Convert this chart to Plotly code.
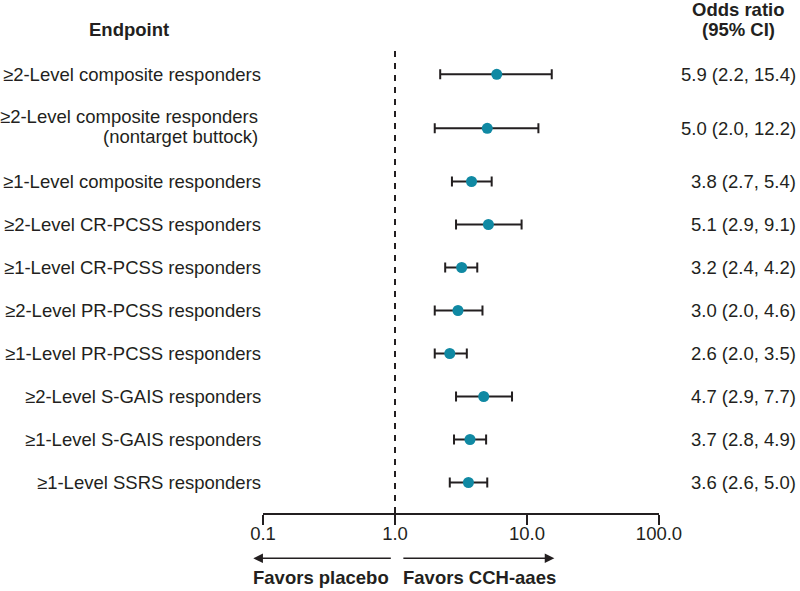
import plotly.graph_objects as go

# ---- data ----
endpoints = [
    "≥2-Level composite responders",
    "≥2-Level composite responders<br>(nontarget buttock)",
    "≥1-Level composite responders",
    "≥2-Level CR-PCSS responders",
    "≥1-Level CR-PCSS responders",
    "≥2-Level PR-PCSS responders",
    "≥1-Level PR-PCSS responders",
    "≥2-Level S-GAIS responders",
    "≥1-Level S-GAIS responders",
    "≥1-Level SSRS responders",
]
odds_ratio = [5.9, 5.0, 3.8, 5.1, 3.2, 3.0, 2.6, 4.7, 3.7, 3.6]
ci_low = [2.2, 2.0, 2.7, 2.9, 2.4, 2.0, 2.0, 2.9, 2.8, 2.6]
ci_high = [15.4, 12.2, 5.4, 9.1, 4.2, 4.6, 3.5, 7.7, 4.9, 5.0]
tick_vals = [0.1, 1, 10, 100]
tick_text = ["0.1", "1.0", "10.0", "100.0"]

# ---- layout constants (pixels) ----
W, H = 800, 591
L, R, T, B = 262.7, 659.3, 50, 513
PW, PH = R - L, B - T
FONT = "Arial, Liberation Sans, sans-serif"
FS = 18.5
TEAL = "#1089a3"
INK = "#231f20"
UNIT = 43.0
ROW0 = 74.3


def px_x(x):
    return (x - L) / PW


def px_y(y):
    return (B - y) / PH


# row positions (in row units): extra spacing around the two-line row
y_pos = []
for i in range(len(endpoints)):
    extra = 0.0
    if i >= 1:
        extra += 0.256
    if i >= 2:
        extra += 0.237
    y_pos.append(i + extra)

y_top = (T - ROW0) / UNIT
y_bot = (B - ROW0) / UNIT

fig = go.Figure()
fig.add_trace(go.Scatter(
    x=odds_ratio,
    y=y_pos,
    mode="markers",
    marker=dict(color=TEAL, size=11, line=dict(width=0)),
    error_x=dict(
        type="data",
        symmetric=False,
        array=[h - o for h, o in zip(ci_high, odds_ratio)],
        arrayminus=[o - l for o, l in zip(odds_ratio, ci_low)],
        color=INK,
        thickness=2,
        width=5,
    ),
    cliponaxis=False,
    showlegend=False,
    hoverinfo="skip",
))

annotations = []
for lab, y, o, lo, hi in zip(endpoints, y_pos, odds_ratio, ci_low, ci_high):
    lines = lab.split("<br>")
    if len(lines) == 1:
        annotations.append(dict(
            x=px_x(263), xref="paper", y=y, yref="y", text=lab,
            xanchor="right", yanchor="middle", showarrow=False,
            font=dict(family=FONT, size=FS, color=INK)))
    else:
        shifts = [11.5, -8.5]
        for ln, s in zip(lines, shifts):
            annotations.append(dict(
                x=px_x(259.5), xref="paper", y=y, yref="y", text=ln,
                xanchor="right", yanchor="middle", showarrow=False, yshift=s,
                font=dict(family=FONT, size=FS, color=INK)))
    annotations.append(dict(
        x=px_x(798.5), xref="paper", y=y, yref="y",
        text=f"{o:.1f} ({lo:.1f}, {hi:.1f})",
        xanchor="right", yanchor="middle", showarrow=False,
        font=dict(family=FONT, size=FS, color=INK)))

# headers
annotations.append(dict(x=px_x(128), y=px_y(29), xref="paper", yref="paper",
                        text="<b>Endpoint</b>", showarrow=False,
                        xanchor="center", yanchor="middle",
                        font=dict(family=FONT, size=FS, color=INK)))
annotations.append(dict(x=px_x(739), y=px_y(9.5), xref="paper", yref="paper",
                        text="<b>Odds ratio</b>", showarrow=False,
                        xanchor="center", yanchor="middle",
                        font=dict(family=FONT, size=FS, color=INK)))
annotations.append(dict(x=px_x(739), y=px_y(29.5), xref="paper", yref="paper",
                        text="<b>(95% CI)</b>", showarrow=False,
                        xanchor="center", yanchor="middle",
                        font=dict(family=FONT, size=FS, color=INK)))

# direction arrows
annotations.append(dict(x=px_x(253), y=px_y(558.3), xref="paper", yref="paper",
                        ax=392 - 253, ay=0, text="", showarrow=True,
                        arrowhead=2, arrowsize=1.2, arrowwidth=1.6, arrowcolor=INK))
annotations.append(dict(x=px_x(554.5), y=px_y(558.3), xref="paper", yref="paper",
                        ax=402 - 554.5, ay=0, text="", showarrow=True,
                        arrowhead=2, arrowsize=1.2, arrowwidth=1.6, arrowcolor=INK))
annotations.append(dict(x=px_x(251), y=px_y(577), xref="paper", yref="paper",
                        text="<b>Favors placebo</b>", showarrow=False,
                        xanchor="left", yanchor="middle",
                        font=dict(family=FONT, size=FS, color=INK)))
annotations.append(dict(x=px_x(400.5), y=px_y(577), xref="paper", yref="paper",
                        text="<b>Favors CCH-aaes</b>", showarrow=False,
                        xanchor="left", yanchor="middle",
                        font=dict(family=FONT, size=FS, color=INK)))

fig.update_layout(
    width=W, height=H, autosize=False,
    margin=dict(l=L, r=W - R, t=T, b=H - B, pad=0),
    paper_bgcolor="white", plot_bgcolor="white",
    font=dict(family=FONT, size=FS, color=INK),
    annotations=annotations,
    shapes=[dict(type="line", xref="x", yref="paper", x0=1, x1=1, y0=0, y1=1,
                 line=dict(color=INK, width=2, dash="6px,6px"))],
    xaxis=dict(
        type="log", range=[-1, 2], showgrid=False, zeroline=False,
        showline=True, linecolor=INK, linewidth=2,
        ticks="outside", ticklen=10, tickwidth=2, tickcolor=INK,
        tickvals=tick_vals, ticktext=tick_text,
        tickfont=dict(family=FONT, size=FS, color=INK),
        ticklabelstandoff=-7,
        fixedrange=True,
    ),
    yaxis=dict(range=[y_bot, y_top], visible=False, fixedrange=True),
)

fig.write_html(
    "out.html",
    config={"displayModeBar": False},
    post_script="document.body.style.margin='0';document.body.style.overflow='hidden';",
)
